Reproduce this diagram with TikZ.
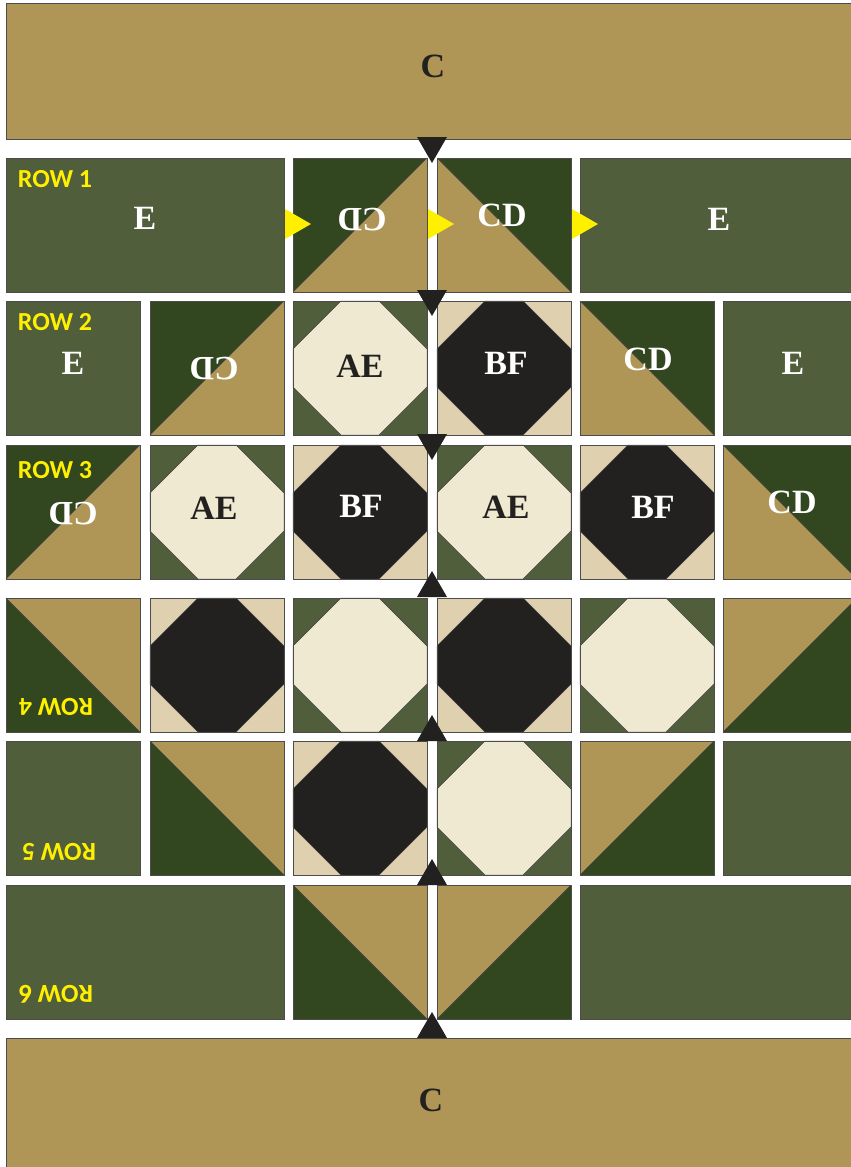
\documentclass[tikz,border=0pt]{standalone}
\usepackage{fontspec}
\setmainfont{Liberation Serif}
\newfontfamily\rowfont{Carlito}
\usepackage{tikz}
\usetikzlibrary{positioning}
\definecolor{qltTan}{HTML}{AF9657}
\definecolor{qltOlive}{HTML}{505E3C}
\definecolor{qltForest}{HTML}{32471F}
\definecolor{qltCream}{HTML}{F0E9D2}
\definecolor{qltBeige}{HTML}{DFD0B0}
\definecolor{qltInk}{HTML}{222120}
\definecolor{qltYellow}{HTML}{FFF000}

% half-square block, seam from lower left to upper right
\newcommand{\hstUL}[4]{%
  \fill[#3] (#1,#2) -- ++(134,0) -- ++(-134,134) -- cycle;
  \fill[#4] (#1+134,#2) -- ++(0,134) -- ++(-134,0) -- cycle;
  \draw[seam] (#1+134,#2) -- ++(-134,134);
  \draw[tileline] (#1,#2) rectangle ++(134,134);}
% half-square block, seam from upper left to lower right
\newcommand{\hstUR}[4]{%
  \fill[#3] (#1,#2) -- ++(134,0) -- ++(0,134) -- cycle;
  \fill[#4] (#1,#2) -- ++(134,134) -- ++(-134,0) -- cycle;
  \draw[seam] (#1,#2) -- ++(134,134);
  \draw[tileline] (#1,#2) rectangle ++(134,134);}
% snowball block
\newcommand{\octblock}[4]{%
  \fill[#3] (#1,#2) rectangle ++(134,134);
  \filldraw[seam, fill=#4] (#1+48,#2) -- ++(38,0) -- ++(48,48) -- ++(0,38)
    -- ++(-48,48) -- ++(-38,0) -- ++(-48,-48) -- ++(0,-38) -- cycle;
  \draw[tileline] (#1,#2) rectangle ++(134,134);}

\begin{document}
\begin{tikzpicture}[
  x=1pt, y=-1pt,
  tileline/.style={draw=black!70, line width=0.8pt},
  seam/.style={draw=black!75, line width=0.4pt},
  lbl/.style={font=\fontsize{34}{36}\selectfont\bfseries, inner sep=0pt},
  rowlbl/.style={font=\rowfont\fontsize{26}{28}\selectfont\bfseries, text=qltYellow, inner sep=0pt},
  pointer/.style={fill=qltInk},
  nudge/.style={fill=qltYellow}
]
\fill[white] (0,0) rectangle (851,1167);
\clip (0,0) rectangle (851,1167);

% border strips
\filldraw[tileline, fill=qltTan] (6,3) rectangle (870,139);
\filldraw[tileline, fill=qltTan] (6,1038) rectangle (870,1190);
\node[lbl, text=qltInk] (ctop) at (433,66) {C};
\node[lbl, text=qltInk] (cbot) at (431,1100) {C};

% row 1
\filldraw[tileline, fill=qltOlive] (6,158) rectangle (284,292);
\hstUL{293}{158}{qltForest}{qltTan}
\hstUR{437}{158}{qltForest}{qltTan}
\filldraw[tileline, fill=qltOlive] (580,158) rectangle (870,292);

% row 2
\filldraw[tileline, fill=qltOlive] (6,301) rectangle ++(134,134);
\hstUL{150}{301}{qltForest}{qltTan}
\octblock{293}{301}{qltOlive}{qltCream}
\octblock{437}{301}{qltBeige}{qltInk}
\hstUR{580}{301}{qltForest}{qltTan}
\filldraw[tileline, fill=qltOlive] (723,301) rectangle ++(134,134);

% row 3
\hstUL{6}{445}{qltForest}{qltTan}
\octblock{150}{445}{qltOlive}{qltCream}
\octblock{293}{445}{qltBeige}{qltInk}
\octblock{437}{445}{qltOlive}{qltCream}
\octblock{580}{445}{qltBeige}{qltInk}
\hstUR{723}{445}{qltForest}{qltTan}

% row 4
\hstUR{6}{598}{qltTan}{qltForest}
\octblock{150}{598}{qltBeige}{qltInk}
\octblock{293}{598}{qltOlive}{qltCream}
\octblock{437}{598}{qltBeige}{qltInk}
\octblock{580}{598}{qltOlive}{qltCream}
\hstUL{723}{598}{qltTan}{qltForest}

% row 5
\filldraw[tileline, fill=qltOlive] (6,741) rectangle ++(134,134);
\hstUR{150}{741}{qltTan}{qltForest}
\octblock{293}{741}{qltBeige}{qltInk}
\octblock{437}{741}{qltOlive}{qltCream}
\hstUL{580}{741}{qltTan}{qltForest}
\filldraw[tileline, fill=qltOlive] (723,741) rectangle ++(134,134);

% row 6
\filldraw[tileline, fill=qltOlive] (6,885) rectangle (284,1019);
\hstUR{293}{885}{qltTan}{qltForest}
\hstUL{437}{885}{qltTan}{qltForest}
\filldraw[tileline, fill=qltOlive] (580,885) rectangle (870,1019);

% block letters
\node[lbl, text=white] (r1a) at (145,218) {E};
\node[lbl, text=white, rotate=180] (r1b) at (362,220) {CD};
\node[lbl, text=white] (r1c) at (502,215) {CD};
\node[lbl, text=white] (r1d) at (719,219) {E};

\node[lbl, text=white] (r2a) at (73,363) {E};
\node[lbl, text=white, rotate=180] (r2b) at (214,369) {CD};
\node[lbl, text=qltInk] (r2c) at (360,366) {AE};
\node[lbl, text=white] (r2d) at (506,363) {BF};
\node[lbl, text=white] (r2e) at (648,359) {CD};
\node[lbl, text=white] (r2f) at (793,363) {E};

\node[lbl, text=white, rotate=180] (r3a) at (73,514) {CD};
\node[lbl, text=qltInk] (r3b) at (214,508) {AE};
\node[lbl, text=white] (r3c) at (361,506) {BF};
\node[lbl, text=qltInk] (r3d) at (506,507) {AE};
\node[lbl, text=white] (r3e) at (653,507) {BF};
\node[lbl, text=white] (r3f) at (792,502) {CD};

% row tags
\node[rowlbl] (row1) at (55,179) {ROW 1};
\node[rowlbl] (row2) at (55,322) {ROW 2};
\node[rowlbl] (row3) at (55,470) {ROW 3};
\node[rowlbl, rotate=180] (row4) at (56,707) {ROW 4};
\node[rowlbl, rotate=180] (row5) at (59,852) {ROW 5};
\node[rowlbl, rotate=180] (row6) at (56,994) {ROW 6};

% sewing order marks
\foreach \y in {137,290,434}
  \fill[pointer] (417,\y) -- ++(30,0) -- ++(-15,26) -- cycle;
\foreach \y in {597,741,885,1038}
  \fill[pointer] (417,\y) -- ++(30,0) -- ++(-15,-26) -- cycle;
\foreach \x in {285,428,572}
  \fill[nudge] (\x,209) -- ++(26,15) -- ++(-26,15) -- cycle;

\end{tikzpicture}
\end{document}
